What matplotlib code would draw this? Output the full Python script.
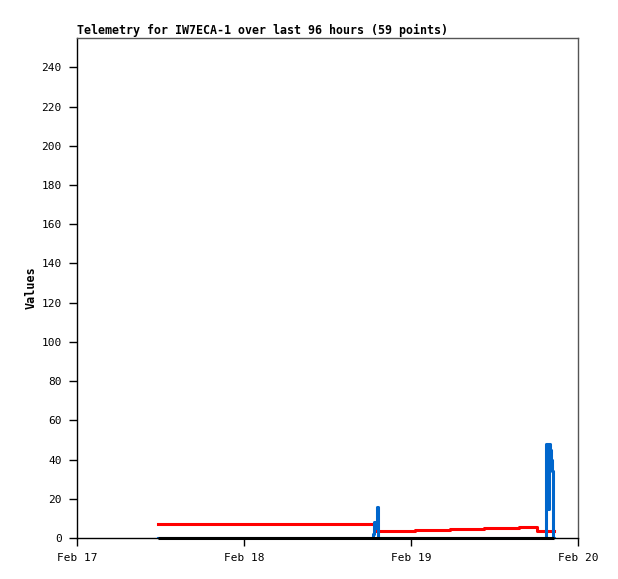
import matplotlib
matplotlib.use("Agg")
import matplotlib.pyplot as plt

# hours since Feb 17 00:00
red_t = [11.6, 42.8, 48.6, 53.6, 58.5, 63.5, 66.1, 68.5]
red_v = [7.0, 3.7, 4.2, 4.7, 5.2, 5.7, 3.7, 3.7]

blue_t = [11.6, 42.45, 42.6, 42.75, 42.95, 43.15, 43.3,
          67.35, 67.45, 67.6, 67.7, 67.8, 67.95, 68.1, 68.25, 68.35, 68.5]
blue_v = [0, 0, 2, 8, 5, 16, 0,
          0, 48, 48, 15, 48, 45, 40, 34, 0, 0]

black_t = [11.6, 68.5]
black_v = [0, 0]

tick_hours = [0, 24, 48, 72]
tick_labels = ["Feb 17", "Feb 18", "Feb 19", "Feb 20"]
y_ticks = list(range(0, 241, 20))

mono = "DejaVu Sans Mono"

fig = plt.figure(figsize=(6.18, 5.79), dpi=100)
ax = fig.add_axes([77 / 618, 1 - 538 / 579, 501 / 618, 500 / 579])

ax.plot(red_t, red_v, color="#ff0000", lw=2.2, drawstyle="steps-post", zorder=3)
ax.plot(blue_t, blue_v, color="#0066cc", lw=2.2, drawstyle="steps-post", zorder=4)
ax.plot(black_t, black_v, color="black", lw=2.2, zorder=5,
        solid_capstyle="butt", clip_on=False)

ax.set_xlim(0, 72)
ax.set_ylim(0, 255)
ax.set_xticks(tick_hours)
ax.set_xticklabels(tick_labels, fontfamily=mono, fontsize=8)
ax.set_yticks(y_ticks)
ax.set_yticklabels([str(v) for v in y_ticks], fontfamily=mono, fontsize=8)
ax.tick_params(direction="out", length=6, width=1, pad=5)

for s in ax.spines.values():
    s.set_color("#555555")
    s.set_linewidth(1)
ax.spines["left"].set_color("black")
ax.spines["bottom"].set_color("black")

ax.set_ylabel("Values", fontfamily=mono, fontsize=8.5, fontweight="bold", labelpad=3)
ax.set_title("Telemetry for IW7ECA-1 over last 96 hours (59 points)",
             fontfamily=mono, fontsize=8.35, fontweight="bold", loc="left", pad=3)

fig.savefig("out.png", dpi=100, facecolor="white")
